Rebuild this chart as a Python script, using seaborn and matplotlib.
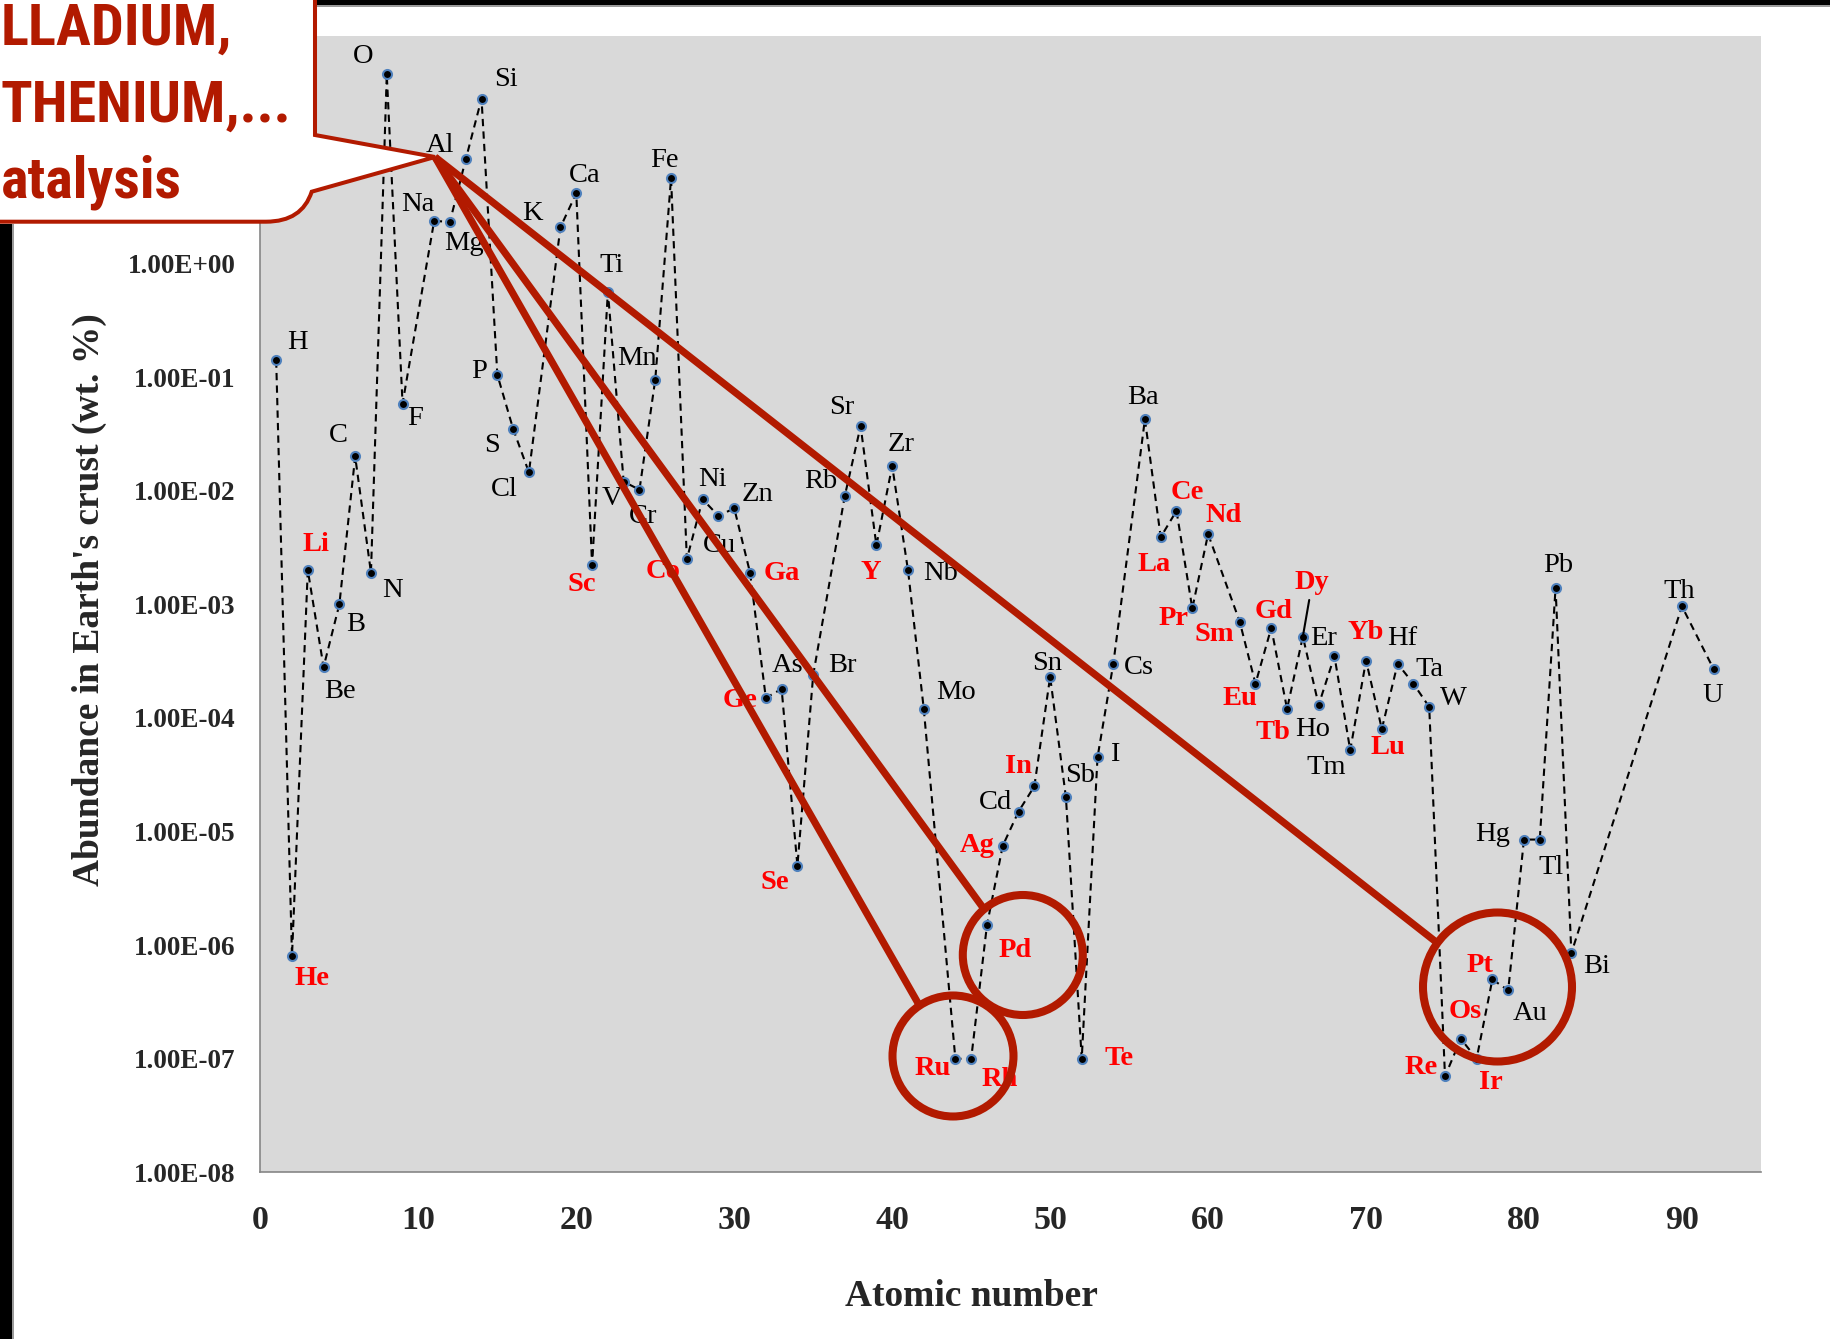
import numpy as np
import pandas as pd
import matplotlib
matplotlib.use("Agg")
import matplotlib.pyplot as plt
import seaborn as sns
from matplotlib import font_manager
from matplotlib.patches import Circle, PathPatch, Rectangle
from matplotlib.path import Path
from matplotlib.lines import Line2D
from matplotlib.ticker import NullLocator

# ---------------- data ----------------
symbols = ["H", "He", "Li", "Be", "B", "C", "N", "O", "F", "Na", "Mg", "Al", "Si", "P", "S", "Cl",
           "K", "Ca", "Sc", "Ti", "V", "Cr", "Mn", "Fe", "Co", "Ni", "Cu", "Zn", "Ga", "Ge", "As",
           "Se", "Br", "Rb", "Sr", "Y", "Zr", "Nb", "Mo", "Ru", "Rh", "Pd", "Ag", "Cd", "In", "Sn",
           "Sb", "Te", "I", "Cs", "Ba", "La", "Ce", "Pr", "Nd", "Sm", "Eu", "Gd", "Tb", "Dy", "Ho",
           "Er", "Tm", "Yb", "Lu", "Hf", "Ta", "W", "Re", "Os", "Ir", "Pt", "Au", "Hg", "Tl", "Pb",
           "Bi", "Th", "U"]
atomic_number = [1, 2, 3, 4, 5, 6, 7, 8, 9, 11, 12, 13, 14, 15, 16, 17,
                 19, 20, 21, 22, 23, 24, 25, 26, 27, 28, 29, 30, 31, 32, 33,
                 34, 35, 37, 38, 39, 40, 41, 42, 44, 45, 46, 47, 48, 49, 50,
                 51, 52, 53, 54, 56, 57, 58, 59, 60, 62, 63, 64, 65, 66, 67,
                 68, 69, 70, 71, 72, 73, 74, 75, 76, 77, 78, 79, 80, 81, 82,
                 83, 90, 92]
abundance = [1.4e-1, 8e-7, 2.0e-3, 2.8e-4, 1.0e-3, 2.0e-2, 1.9e-3, 46.1, 5.85e-2, 2.36, 2.33, 8.23, 28.2,
             1.05e-1, 3.5e-2, 1.45e-2,
             2.09, 4.15, 2.2e-3, 5.65e-1, 1.2e-2, 1.02e-2, 9.5e-2, 5.63, 2.5e-3, 8.4e-3, 6.0e-3, 7.0e-3,
             1.9e-3, 1.5e-4, 1.8e-4,
             5e-6, 2.4e-4, 9.0e-3, 3.7e-2, 3.3e-3, 1.65e-2, 2.0e-3, 1.2e-4, 1e-7, 1e-7, 1.5e-6, 7.5e-6,
             1.5e-5, 2.5e-5, 2.3e-4,
             2.0e-5, 1e-7, 4.5e-5, 3.0e-4, 4.25e-2, 3.9e-3, 6.65e-3, 9.2e-4, 4.15e-3, 7.05e-4, 2.0e-4,
             6.2e-4, 1.2e-4, 5.2e-4, 1.3e-4,
             3.5e-4, 5.2e-5, 3.2e-4, 8.0e-5, 3.0e-4, 2.0e-4, 1.25e-4, 7e-8, 1.5e-7, 1e-7, 5e-7, 4e-7,
             8.5e-6, 8.5e-6, 1.4e-3,
             8.5e-7, 9.6e-4, 2.7e-4]
red_elements = ["He", "Li", "Sc", "Co", "Ga", "Ge", "Se", "Y", "Ru", "Rh", "Pd", "Ag", "In", "Te",
                "La", "Ce", "Pr", "Nd", "Sm", "Eu", "Gd", "Tb", "Dy", "Yb", "Lu", "Re", "Os", "Ir", "Pt"]
x_ticks = [0, 10, 20, 30, 40, 50, 60, 70, 80, 90]
y_ticks = [1e-8, 1e-7, 1e-6, 1e-5, 1e-4, 1e-3, 1e-2, 1e-1, 1e0]
x_label = "Atomic number"
y_label = "Abundance in Earth's crust (wt. %)"
callout_lines = ["LLADIUM,", "THENIUM,...", "atalysis"]

# ---------------- label placement (pixel offsets: right, down) ----------------
label_offsets = {
    "H": (18, -15), "He": (17, 19), "Li": (7, -22), "Be": (14, 21), "B": (14, 17), "C": (-14, -18),
    "N": (18, 15), "O": (-20, -15), "F": (11, 13), "Na": (-14, -14), "Mg": (12, 19), "Al": (-22, -12),
    "Si": (21, -16), "P": (-16, -3), "S": (-18, 14), "Cl": (-21, 15), "K": (-24, -12), "Ca": (7, -15),
    "Sc": (-9, 16), "Ti": (3, -22), "V": (-10, 14), "Cr": (3, 23), "Mn": (-16, -18), "Fe": (-6, -15),
    "Co": (-20, 11), "Ni": (8, -17), "Cu": (1, 25), "Zn": (20, -12), "Ga": (27, 1), "Ge": (-22, 2),
    "As": (5, -20), "Se": (-19, 14), "Br": (25, -8), "Rb": (-21, -12), "Sr": (-16, -16), "Y": (-5, 23),
    "Zr": (8, -18), "Nb": (28, 3), "Mo": (28, -14), "Ru": (-19, 8), "Rh": (24, 18), "Pd": (24, 22),
    "Ag": (-22, 0), "Cd": (-20, -8), "In": (-14, -17), "Sn": (-3, -11), "Sb": (12, -19), "Te": (32, 0),
    "I": (15, -2), "Cs": (22, 3), "Ba": (-2, -19), "La": (-6, 23), "Ce": (9, -16), "Pr": (-16, 9),
    "Nd": (13, -16), "Sm": (-22, 11), "Eu": (-13, 13), "Gd": (2, -14), "Tb": (-12, 20), "Dy": (8, -46),
    "Ho": (-5, 21), "Er": (-9, -15), "Tm": (-21, 15), "Yb": (0, -24), "Lu": (5, 16), "Hf": (4, -22),
    "Ta": (14, -12), "W": (21, -7), "Re": (-20, -8), "Os": (4, -23), "Ir": (12, 20), "Pt": (-11, -12),
    "Au": (19, 20), "Hg": (-27, -4), "Tl": (10, 24), "Pb": (2, -19), "Bi": (22, 11), "Th": (-2, -13),
    "U": (-1, 23),
}
SCALE = 1831 / 1568.0

# ---------------- style ----------------
sns.set_style("white")
plt.rcParams["font.family"] = ["Liberation Serif", "DejaVu Serif"]
avail = {f.name for f in font_manager.fontManager.ttflist}
narrow_font = next((n for n in ["Liberation Sans Narrow", "DejaVu Sans Condensed", "Roboto Condensed",
                                "Open Sans Condensed", "Liberation Sans"] if n in avail), "DejaVu Sans")

W, H = 1831, 1339
fig = plt.figure(figsize=(W / 100, H / 100), dpi=100)
fig.patch.set_facecolor("white")
ax = fig.add_axes([260.4 / W, 1 - 1172.4 / H, (1760.9 - 260.4) / W, (1172.4 - 36.2) / H])
ax.set_facecolor("#D9D9D9")

df = pd.DataFrame({"Z": atomic_number, "abundance": abundance, "symbol": symbols})
sns.lineplot(data=df, x="Z", y="abundance", ax=ax, color="black", lw=1.5,
             linestyle=(0, (3.5, 2.5)), marker="o", ms=6.5, mfc="black", mec="#4F81BD", mew=1.5,
             estimator=None, sort=False, zorder=3)

ax.set_yscale("log")
ax.set_ylim(1e-8, 1e2)
ax.set_xlim(0, 95)
ax.set_xticks(x_ticks)
ax.set_xticklabels([str(t) for t in x_ticks])
ax.set_yticks(y_ticks)
ax.set_yticklabels([f"{t:.2E}" for t in y_ticks])
ax.yaxis.set_minor_locator(NullLocator())
ax.xaxis.set_minor_locator(NullLocator())
for lab in ax.get_xticklabels():
    lab.set_fontweight("bold")
    lab.set_fontsize(24.5)
for lab in ax.get_yticklabels():
    lab.set_fontweight("bold")
    lab.set_fontsize(19.5)
ax.tick_params(axis="y", length=0, pad=18)
ax.tick_params(axis="x", length=8.6, width=1.0, color="#868686", pad=15, direction="out")
for s in ["top", "right"]:
    ax.spines[s].set_visible(False)
for s in ["left", "bottom"]:
    ax.spines[s].set_color("#868686")
    ax.spines[s].set_linewidth(1.2)
ax.grid(False)

ax.set_xlabel(x_label, fontsize=27, fontweight="bold", va="top")
ax.xaxis.set_label_coords(0.474, -0.0938)
ax.set_ylabel(y_label, fontsize=27, fontweight="bold")
ax.yaxis.set_label_coords(-0.1024, 0.504)

# element labels
for sym, z, v in zip(symbols, atomic_number, abundance):
    dx, dy = label_offsets[sym]
    red = sym in red_elements
    kw = dict(xy=(z, v), xytext=(dx * SCALE, -dy * SCALE), textcoords="offset pixels",
              ha="center", va="center", fontsize=20.5, color="#FF0000" if red else "black",
              fontweight="bold" if red else "normal", zorder=4)
    if sym == "Dy":
        kw["arrowprops"] = dict(arrowstyle="-", lw=1.5, color="black", shrinkA=1, shrinkB=0)
    ax.annotate(sym, **kw)

# ---------------- red annotation (figure pixel coordinates) ----------------
RED = "#B21A00"
T = fig.dpi_scale_trans


def P(x, y):
    return (x / 100.0, (H - y) / 100.0)


vertex = (435, 157)
for end in [(920, 1006.6), (984.4, 909.6), (1437.4, 943)]:
    p0, p1 = P(*vertex), P(*end)
    fig.add_artist(Line2D([p0[0], p1[0]], [p0[1], p1[1]], transform=T, color=RED, lw=5.2,
                          solid_capstyle="butt", zorder=10))
for cx, cy, r in [(953, 1056, 60.5), (1022.8, 955, 60), (1497.5, 987, 74.5)]:
    fig.add_artist(Circle(P(cx, cy), r / 100.0, transform=T, fill=False, edgecolor=RED, lw=5.8,
                          zorder=10))

verts = [P(-20, 221.7), P(-20, -20), P(315, -20), P(315, 135), P(*vertex), P(311.7, 191.7),
         P(302, 221.7), P(266, 221.7), P(-20, 221.7), P(-20, 221.7)]
codes = [Path.MOVETO, Path.LINETO, Path.LINETO, Path.LINETO, Path.LINETO, Path.LINETO,
         Path.CURVE3, Path.CURVE3, Path.LINETO, Path.CLOSEPOLY]
fig.add_artist(PathPatch(Path(verts, codes), transform=T, facecolor="white", edgecolor=RED,
                         lw=2.9, zorder=11))

callout_texts = []
for txt, base in zip(callout_lines, [45, 122, 198]):
    t = fig.text(*P(1, base), txt, transform=T, ha="left", va="baseline", fontsize=44,
                 fontweight="bold", color=RED, family=[narrow_font, "DejaVu Sans"], zorder=12)
    callout_texts.append(t)

# fit callout text width to the visible width of the reference
fig.canvas.draw()
renderer = fig.canvas.get_renderer()
w = callout_texts[1].get_window_extent(renderer).width
if w > 0:
    f = 290.0 / w
    for t in callout_texts:
        t.set_fontsize(44 * f)

# slide edge bars
fig.add_artist(Rectangle(P(315, 5), (W - 315) / 100.0, 5 / 100.0, transform=T, facecolor="black",
                         edgecolor="none", zorder=9))
fig.add_artist(Rectangle(P(315, 7), (W - 315) / 100.0, 2 / 100.0, transform=T, facecolor="#9A9A9A",
                         edgecolor="none", zorder=9))
fig.add_artist(Rectangle(P(0, H), 12 / 100.0, (H - 224) / 100.0, transform=T, facecolor="black",
                         edgecolor="none", zorder=9))
fig.add_artist(Rectangle(P(12, H), 2 / 100.0, (H - 224) / 100.0, transform=T, facecolor="#9A9A9A",
                         edgecolor="none", zorder=9))

fig.savefig("out.png", dpi=100, facecolor="white")
